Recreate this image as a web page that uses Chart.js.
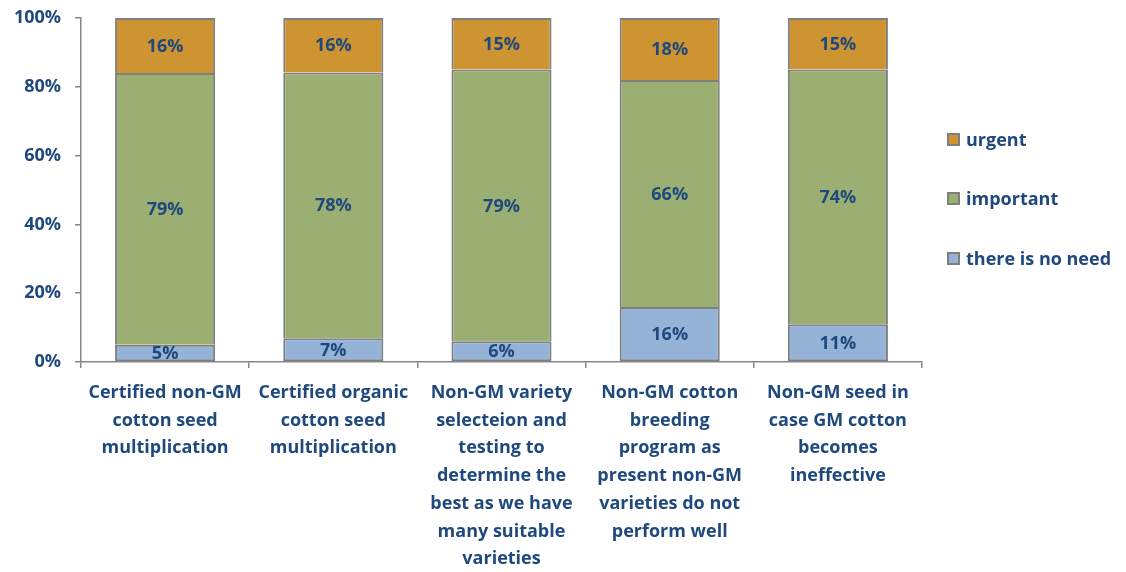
<!DOCTYPE html>
<html><head><meta charset="utf-8">
<script src="https://cdn.jsdelivr.net/npm/chart.js@4"></script>
<style>
html,body{margin:0;padding:0;background:#fff;}
#wrap{position:relative;width:1126px;height:572px;}
#legend{position:absolute;left:947px;top:0;font-family:"Open Sans",Lato,sans-serif;font-weight:bold;font-size:18px;color:#1F497D;}
.li{position:absolute;left:0;white-space:nowrap;display:flex;align-items:center;}
.sw{width:13px;height:13px;border:2px solid #7F7F7F;box-sizing:border-box;margin-right:6px;}
</style></head>
<body><div id="wrap"><canvas id="c" width="1126" height="572"></canvas><div id="legend"></div></div>
<script>
const categories = [
  ["Certified non-GM","cotton seed","multiplication"],
  ["Certified organic","cotton seed","multiplication"],
  ["Non-GM variety","selecteion and","testing to","determine the","best as we have","many suitable","varieties"],
  ["Non-GM cotton","breeding","program as","present non-GM","varieties do not","perform well"],
  ["Non-GM seed in","case GM cotton","becomes","ineffective"]
];
const noNeed = [5, 7, 6, 16, 11];
const important = [79, 78, 79, 66, 74];
const urgent = [16, 16, 15, 18, 15];
const yTicks = ["0%","20%","40%","60%","80%","100%"];
const seriesNames = ["there is no need","important","urgent"];
const colors = ["#95B3D7","#9BAF73","#CD9431"];

const series = [noNeed, important, urgent];
const totals = noNeed.map((v,i)=>noNeed[i]+important[i]+urgent[i]);
const FONT = "'Open Sans', Lato, sans-serif";
const TXT = "#1F497D";
const FS = 18;

const datasets = series.map((arr,k)=>({
  label: seriesNames[k],
  raw: arr,
  data: arr.map((v,i)=>v/totals[i]*100),
  backgroundColor: colors[k],
  borderColor: "#7F7F7F",
  borderWidth: 2,
  borderSkipped: k === 0 ? false : "bottom",
  barPercentage: 0.595,
  categoryPercentage: 1.0
}));

const labelPlugin = {
  id: "segLabels",
  afterDatasetsDraw(chart){
    const ctx = chart.ctx;
    ctx.save();
    ctx.font = "bold " + FS + "px " + FONT;
    ctx.fillStyle = TXT;
    ctx.textAlign = "center";
    ctx.textBaseline = "middle";
    chart.data.datasets.forEach((ds,di)=>{
      const meta = chart.getDatasetMeta(di);
      meta.data.forEach((bar,i)=>{
        const y = (bar.y + bar.base)/2;
        ctx.fillText(ds.raw[i] + "%", bar.x, y + 1);
      });
    });
    ctx.restore();
  }
};

new Chart(document.getElementById("c"), {
  type: "bar",
  data: { labels: categories, datasets },
  plugins: [labelPlugin],
  options: {
    responsive: false,
    animation: false,
    layout: { padding: { left: 0, right: 204, top: 0, bottom: 0 } },
    plugins: { legend: { display: false }, tooltip: { enabled: false } },
    scales: {
      x: {
        stacked: true,
        offset: true,
        afterFit(s){ s.height = 210; },
        grid: { offset: true, drawOnChartArea: false, drawTicks: true, tickLength: 6, color: "#868686", lineWidth: 1.5 },
        border: { display: true, color: "#868686", width: 1.5 },
        ticks: { color: TXT, font: { family: FONT, size: FS, weight: "bold", lineHeight: 1.54 }, padding: 11, maxRotation: 0, autoSkip: false }
      },
      y: {
        stacked: true,
        min: 0, max: 100,
        afterFit(s){ s.width = 81; s.paddingTop = 18; s.paddingBottom = 10; },
        grid: { drawOnChartArea: false, drawTicks: true, tickLength: 6, color: "#868686", lineWidth: 1.5 },
        border: { display: true, color: "#868686", width: 1.5 },
        ticks: { stepSize: 20, color: TXT, padding: 14, font: { family: FONT, size: FS, weight: "bold" },
          callback: (v)=> yTicks[Math.round(v/20)] }
      }
    }
  }
});

const lg = document.getElementById("legend");
const legendOrder = [2,1,0];
const legendY = [140,199,259];
legendOrder.forEach((k,j)=>{
  const d = document.createElement("div");
  d.className = "li";
  d.style.top = (legendY[j]-13) + "px";
  d.innerHTML = '<span class="sw" style="background:'+colors[k]+'"></span><span>'+seriesNames[k]+'</span>';
  lg.appendChild(d);
});
</script></body></html>
